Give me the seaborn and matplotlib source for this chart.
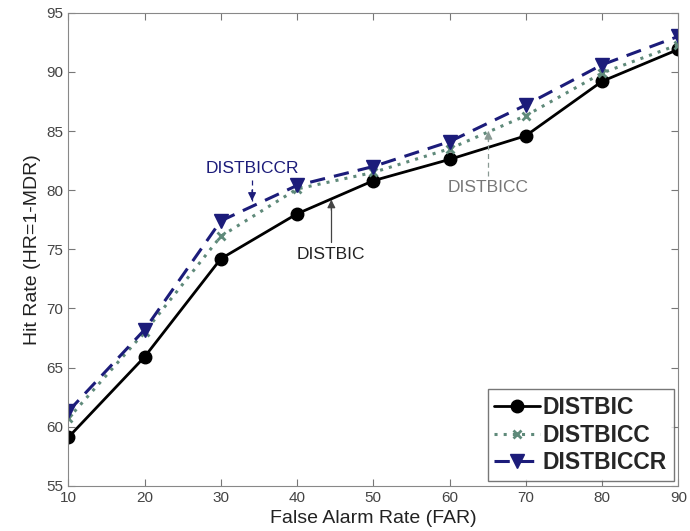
import pandas as pd
import matplotlib
matplotlib.use("Agg")
import matplotlib.pyplot as plt
import seaborn as sns

far = [10, 20, 30, 40, 50, 60, 70, 80, 90]
distbic = [59.1, 65.9, 74.2, 78.0, 80.8, 82.6, 84.6, 89.2, 91.9]
distbicc = [60.7, 68.0, 76.1, 80.1, 81.5, 83.5, 86.3, 89.9, 92.3]
distbiccr = [61.3, 68.2, 77.4, 80.4, 82.0, 84.1, 87.2, 90.6, 93.0]
series_names = ["DISTBIC", "DISTBICC", "DISTBICCR"]

# annotation labels: text, x, text y, arrow tail y, arrow tip y
ann_labels = ["DISTBICCR", "DISTBIC", "DISTBICC"]
ann_x = [34.1, 44.5, 65.1]
ann_text_y = [81.8, 74.6, 80.2]
ann_tail_y = [80.9, 75.6, 81.2]
ann_tip_y = [79.1, 79.2, 85.0]

sns.set_style("ticks")
plt.rcParams["font.family"] = ["Liberation Sans", "DejaVu Sans"]

df = pd.DataFrame({"FAR": far * 3,
                   "HR": distbic + distbicc + distbiccr,
                   "method": [n for n in series_names for _ in far]})

fig = plt.figure(figsize=(6.9, 5.31), dpi=100)
ax = fig.add_axes([0.099, 0.085, 0.884, 0.891])

navy = "#1c1c7a"
green = "#5f8a7a"
styles = {
    "DISTBIC": dict(color="black", marker="o", ms=9, lw=2.0, mew=1, dashes=None),
    "DISTBICC": dict(color=green, marker="x", ms=6, lw=2.2, mew=2.0, dashes=(1, 2)),
    "DISTBICCR": dict(color=navy, marker="v", ms=10, lw=2.2, mew=1, dashes=(5, 3)),
}
for name in series_names:
    st = styles[name]
    sub = df[df["method"] == name]
    sns.lineplot(data=sub, x="FAR", y="HR", ax=ax, color=st["color"],
                 marker=st["marker"], markersize=st["ms"], linewidth=st["lw"],
                 markeredgewidth=st["mew"], markeredgecolor=st["color"],
                 markerfacecolor=st["color"], label=name)
    if st["dashes"]:
        ax.lines[-1].set_dashes(st["dashes"])

ax.set_xlim(10, 90)
ax.set_ylim(55, 95)
ax.set_xticks(far)
ax.set_yticks(range(55, 96, 5))
ax.tick_params(direction="in", top=True, right=True, labelsize=11,
               colors="#777777", labelcolor="#444444", length=5)
for sp in ax.spines.values():
    sp.set_visible(True)
    sp.set_color("#888888")
ax.set_xlabel("False Alarm Rate (FAR)", fontsize=14, color="#222222")
ax.set_ylabel("Hit Rate (HR=1-MDR)", fontsize=14, color="#222222")

# annotations: label, dashed/solid shaft, arrow head
ann_text_colors = [navy, "#222222", "#777777"]
ann_arrow_colors = [navy, "#444444", "#8a9a94"]
ann_ls = ["--", "-", "--"]
for lab, x, ty, tail, tip, tc, acol, ls in zip(ann_labels, ann_x, ann_text_y,
                                               ann_tail_y, ann_tip_y,
                                               ann_text_colors, ann_arrow_colors, ann_ls):
    ax.text(x, ty, lab, color=tc, fontsize=12.5, ha="center", va="center")
    ax.plot([x, x], [tail, tip], color=acol, ls=ls, lw=0.9,
            dashes=(4, 3) if ls == "--" else (None, None))
    d = 0.9 if tip > tail else -0.9
    ax.annotate("", xy=(x, tip), xytext=(x, tip - d),
                arrowprops=dict(arrowstyle="-|>", color=acol, lw=0.9,
                                mutation_scale=12, shrinkA=0, shrinkB=0))

leg = ax.legend(loc="lower right", fontsize=16.5, frameon=True, fancybox=False,
                handlelength=2.0, handletextpad=0.1, borderpad=0.3,
                labelspacing=0.2, borderaxespad=0.2)
leg.get_frame().set_edgecolor("#555555")
leg.get_frame().set_linewidth(1.0)
for t in leg.get_texts():
    t.set_fontweight("bold")

fig.savefig("out.png", dpi=100)
